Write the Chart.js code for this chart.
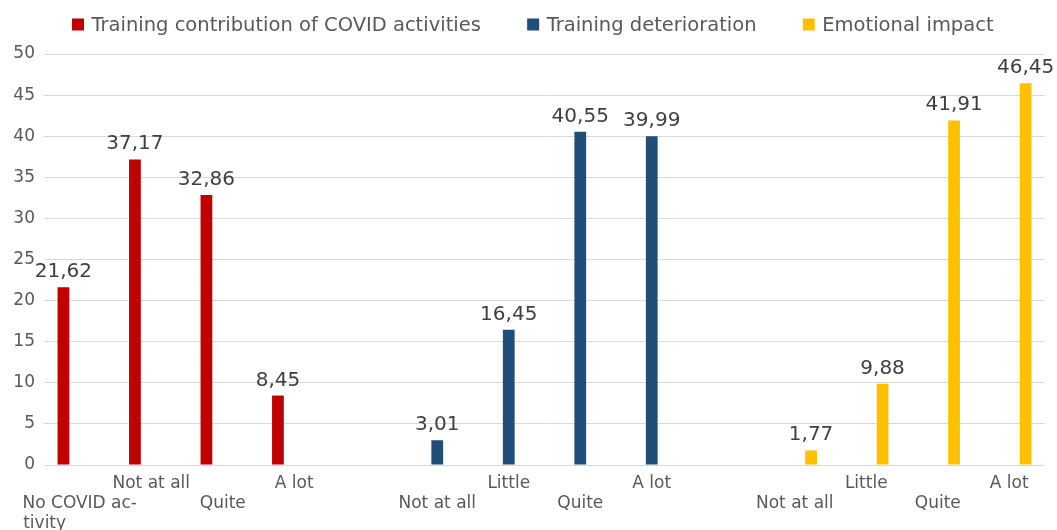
<!DOCTYPE html>
<html>
<head>
<meta charset="utf-8">
<script src="https://cdn.jsdelivr.net/npm/chart.js@4.4.1/dist/chart.umd.min.js"></script>
<style>
  html, body { margin: 0; padding: 0; background: #ffffff; overflow: hidden; font-family: "DejaVu Sans"; }
  #wrap { position: relative; width: 1057px; height: 530px; }
</style>
</head>
<body>
<div id="wrap"><canvas id="c" width="1057" height="530"></canvas></div>
<script>
// ---- data ----
const categories = [
  ["No COVID ac-", "tivity"], "Not at all", "Quite", "A lot", "",
  "Not at all", "Little", "Quite", "A lot", "",
  "Not at all", "Little", "Quite", "A lot"
];
const seriesNames = ["Training contribution of COVID activities", "Training deterioration", "Emotional impact"];
const contribution = [21.62, 37.17, 32.86, 8.45, null, null, null, null, null, null, null, null, null, null];
const deterioration = [null, null, null, null, null, 3.01, 16.45, 40.55, 39.99, null, null, null, null, null];
const emotional = [null, null, null, null, null, null, null, null, null, null, 1.77, 9.88, 41.91, 46.45];
const yTicks = [0, 5, 10, 15, 20, 25, 30, 35, 40, 45, 50];
const colors = ["#C00000", "#1F4E79", "#FFC000"];

const FONT = "DejaVu Sans";
const TEXT = "#595959";
const TICK_SIZE = 17;

// stagger: alternate lines counting only non-empty labels
const staggerLower = [];
(function(){ let n = 0; categories.forEach((c, i) => { const empty = (c === ""); staggerLower[i] = !empty && (n % 2 === 0); if (!empty) n++; }); })();

// left-align wrapped label lines by padding shorter lines with trailing spaces
const mctx = document.createElement('canvas').getContext('2d');
function leftAlignLines(lines) {
  if (lines.length < 2) return lines;
  mctx.font = TICK_SIZE + "px '" + FONT + "'";
  const widths = lines.map(l => mctx.measureText(l).width);
  const maxW = Math.max.apply(null, widths);
  const sp = mctx.measureText(" ").width;
  return lines.map((l, k) => l + " ".repeat(Math.max(0, Math.round((maxW - widths[k]) / sp))));
}

const valueLabels = {
  id: 'valueLabels',
  afterDatasetsDraw(chart) {
    const ctx = chart.ctx;
    ctx.save();
    ctx.font = "20px '" + FONT + "'";
    ctx.fillStyle = "#404040";
    ctx.textAlign = "center";
    ctx.textBaseline = "alphabetic";
    chart.data.datasets.forEach((ds, di) => {
      const meta = chart.getDatasetMeta(di);
      meta.data.forEach((el, i) => {
        const v = ds.data[i];
        if (v === null || v === undefined) return;
        ctx.fillText(v.toFixed(2).replace('.', ','), el.x, el.y - 10);
      });
    });
    ctx.restore();
  }
};

const customLegend = {
  id: 'customLegend',
  afterDraw(chart) {
    const ctx = chart.ctx;
    ctx.save();
    ctx.font = "19.5px '" + FONT + "'";
    ctx.textBaseline = "alphabetic";
    ctx.textAlign = "left";
    const box = 12, textOff = 19.5, spacing = 46.3;
    const items = chart.data.datasets.map(ds => ({ text: ds.label, color: ds.backgroundColor, w: ctx.measureText(ds.label).width }));
    const total = items.reduce((s, it) => s + textOff + it.w, 0) + spacing * (items.length - 1);
    let x = Math.round(chart.width / 2 + 4.5 - total / 2);
    items.forEach(it => {
      ctx.fillStyle = it.color;
      ctx.fillRect(x, 18.5, box, 12);
      ctx.fillStyle = TEXT;
      ctx.fillText(it.text, x + textOff, 31);
      x += textOff + it.w + spacing;
    });
    ctx.restore();
  }
};

function build() {
  new Chart(document.getElementById('c'), {
    type: 'bar',
    data: {
      labels: categories,
      datasets: [
        { label: seriesNames[0], data: contribution, backgroundColor: colors[0] },
        { label: seriesNames[1], data: deterioration, backgroundColor: colors[1] },
        { label: seriesNames[2], data: emotional, backgroundColor: colors[2] }
      ]
    },
    options: {
      responsive: false,
      animation: false,
      devicePixelRatio: 1,
      categoryPercentage: 0.685,
      barPercentage: 0.72,
      layout: { padding: { top: 54, right: 12, left: 0, bottom: 0 } },
      plugins: { legend: { display: false }, tooltip: { enabled: false } },
      scales: {
        x: {
          grid: { display: false },
          border: { display: false },
          ticks: {
            autoSkip: false, maxRotation: 0, minRotation: 0, padding: 0,
            color: TEXT, font: { family: FONT, size: TICK_SIZE },
            callback: function(v, i) {
              const lab = categories[i];
              const lines = leftAlignLines(Array.isArray(lab) ? lab : [lab]);
              return staggerLower[i] ? [""].concat(lines) : lines;
            }
          },
          afterFit: (scale) => { scale.height = 65; }
        },
        y: {
          min: 0, max: 50,
          afterBuildTicks: (scale) => { scale.ticks = yTicks.map(v => ({ value: v })); },
          grid: { color: "#D9D9D9", drawTicks: false, lineWidth: 1 },
          border: { display: false },
          ticks: { padding: 9, color: TEXT, font: { family: FONT, size: TICK_SIZE } },
          afterFit: (scale) => { scale.width = 44; }
        }
      }
    },
    plugins: [valueLabels, customLegend]
  });
}
Chart.defaults.font.family = FONT;
if (document.fonts && document.fonts.load) {
  Promise.all([document.fonts.load("17px '" + FONT + "'"), document.fonts.load("20px '" + FONT + "'")]).then(build, build);
} else { build(); }
</script>
</body>
</html>
